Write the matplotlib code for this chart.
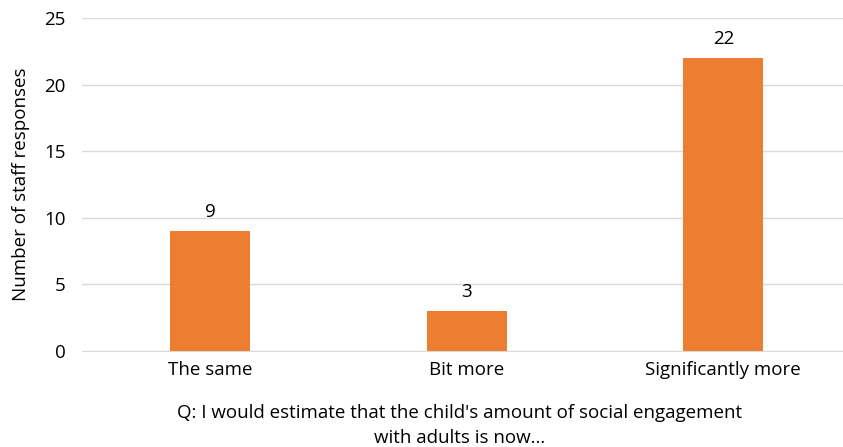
import matplotlib
matplotlib.use("Agg")
import matplotlib.pyplot as plt

categories = ["The same", "Bit more", "Significantly more"]
values = [9, 3, 22]
yticks = [0, 5, 10, 15, 20, 25]

plt.rcParams['font.family'] = ['Open Sans', 'DejaVu Sans']
FS = 13.5

fig = plt.figure(figsize=(8.43, 4.47), dpi=100)
ax = fig.add_axes([82/843, 96/447, 761/843, 333/447])

x = range(len(categories))
bars = ax.bar(x, values, width=0.312, color="#ED7D31", zorder=3)
for xi, v in zip(x, values):
    ax.text(xi, v + 0.75, str(v), ha="center", va="bottom", fontsize=FS, color="#000000")

ax.set_xlim(-0.5, -0.5 + 761/256.5)
ax.set_ylim(0, 25)
ax.set_yticks(yticks)
ax.set_xticks(list(x))
ax.set_xticklabels(categories, fontsize=FS)
ax.tick_params(axis='y', labelsize=FS, length=0, pad=12)
ax.tick_params(axis='x', length=0, pad=7)
ax.yaxis.grid(True, color="#D9D9D9", linewidth=1, zorder=0)
for s in ["top", "right", "left"]:
    ax.spines[s].set_visible(False)
ax.spines["bottom"].set_color("#D9D9D9")
ax.set_ylabel("Number of staff responses", fontsize=FS, labelpad=10)
ax.set_xlabel("Q: I would estimate that the child's amount of social engagement\nwith adults is now...", fontsize=FS, labelpad=18, x=(460-82)/761, linespacing=1.5)

fig.savefig("out.png", dpi=100)
